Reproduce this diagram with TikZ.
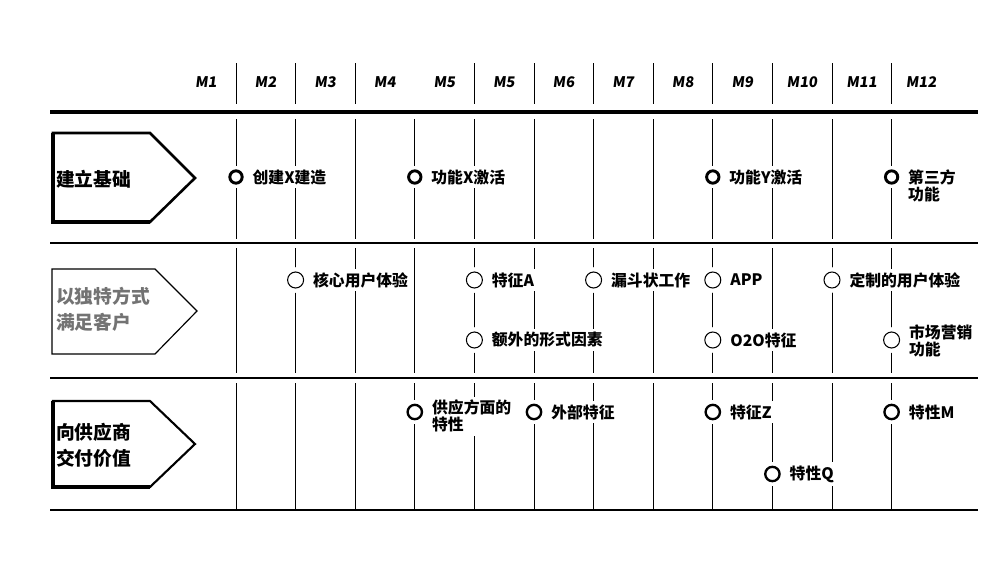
\documentclass[tikz,border=0pt]{standalone}
\usepackage{fontspec}
\setmainfont{Noto Sans CJK SC}
\newfontfamily\monthfont{Noto Sans CJK SC}[FakeSlant=0.12]
\usetikzlibrary{positioning}

\begin{document}
\begin{tikzpicture}[x=0.3mm,y=-0.3mm,
  txt/.style={font=\fontsize{13.5}{14.5}\selectfont\bfseries, fill=white, inner xsep=1.5pt, inner ysep=3pt, align=left},
  month/.style={font=\monthfont\fontsize{12.5}{14}\selectfont\bfseries, inner sep=0pt},
  boxtxt/.style={font=\fontsize{16}{22}\selectfont\bfseries, inner sep=0pt, align=left, anchor=west},
  ms/.style={circle, draw=black, fill=white, inner sep=0pt, preaction={draw=white, line width=8pt}},
  msA/.style={ms, minimum size=3.7mm, line width=2.5pt},
  msB/.style={ms, minimum size=4.8mm, line width=0.9pt},
  msC/.style={ms, minimum size=4.3mm, line width=2pt},
  vline/.style={black, line width=0.7pt},
  node distance=2.1mm]
\useasboundingbox (0,0) rectangle (1004,565);

% month header
\foreach \lab [count=\i] in {M1,M2,M3,M4,M5,M5,M6,M7,M8,M9,M10,M11,M12}
  \node[month] (m\i) at ({206+59.6*(\i-1)}, 82) {\lab};

% grid lines
\foreach \k in {0,...,11} {
  \pgfmathsetmacro{\xx}{236+59.6*\k}
  \ifnum\k=3 \else \draw[vline] (\xx,63) -- (\xx,104); \fi
  \draw[vline] (\xx,119) -- (\xx,239);
  \draw[vline] (\xx,248) -- (\xx,373);
  \draw[vline] (\xx,383) -- (\xx,510);
}
\draw[line width=3.6pt] (50,112) -- (978,112);
\draw[line width=1.8pt] (50,243) -- (978,243);
\draw[line width=1.8pt] (50,378) -- (978,378);
\draw[line width=1.6pt] (50,510) -- (978,510);

% row boxes
\draw[line width=2.2pt, line join=miter] (53,133) -- (150,133) -- (195,178) -- (150,222) -- (53,222) -- cycle;
\draw[line width=3.8pt] (53,133) -- (53,222) -- (150,222);
\node[boxtxt] (build) at (56,179) {建立基础};

\draw[line width=1pt, line join=miter] (52,269) -- (155,269) -- (197,311) -- (155,354) -- (52,354) -- cycle;
\node[boxtxt, text=black!55] (meet) at (56,309) {以独特方式\\满足客户};

\draw[line width=1.8pt, line join=miter] (53,401) -- (150,401) -- (195,444) -- (150,487) -- (53,487) -- cycle;
\draw[line width=2.8pt] (53,401) -- (53,487) -- (150,487);
\node[boxtxt] (supply) at (56,445) {向供应商\\交付价值};

% row 1
\node[msA] (a1) at (236,177) {};
\node[txt, right=of a1] (ta1) {创建X建造};
\node[msA] (a2) at (414.8,177) {};
\node[txt, right=of a2] (ta2) {功能X激活};
\node[msA] (a3) at (712.8,177) {};
\node[txt, right=of a3] (ta3) {功能Y激活};
\node[msA] (a4) at (891.6,177) {};
\node[txt, right=of a4, yshift=-2.55mm] (ta4) {第三方\\功能};

% row 2
\node[msB] (b1) at (295.6,280) {};
\node[txt, right=of b1] (tb1) {核心用户体验};
\node[msB] (b2) at (474.4,280) {};
\node[txt, right=of b2] (tb2) {特征A};
\node[msB] (b3) at (593.6,280) {};
\node[txt, right=of b3] (tb3) {漏斗状工作};
\node[msB] (b4) at (712.8,280) {};
\node[txt, right=of b4] (tb4) {APP};
\node[msB] (b5) at (832,280) {};
\node[txt, right=of b5] (tb5) {定制的用户体验};
\node[msB] (b6) at (474.4,340) {};
\node[txt, right=of b6] (tb6) {额外的形式因素};
\node[msB] (b7) at (712.8,340) {};
\node[txt, right=of b7] (tb7) {O2O特征};
\node[msB] (b8) at (891.6,340) {};
\node[txt, right=of b8, yshift=-0.4mm] (tb8) {市场营销\\功能};

% row 3
\node[msC] (c1) at (414.8,412) {};
\node[txt, right=of c1, yshift=-1.3mm] (tc1) {供应方面的\\特性};
\node[msC] (c2) at (534,412) {};
\node[txt, right=of c2] (tc2) {外部特征};
\node[msC] (c3) at (712.8,412) {};
\node[txt, right=of c3] (tc3) {特征Z};
\node[msC] (c4) at (891.6,412) {};
\node[txt, right=of c4] (tc4) {特性M};
\node[msC] (c5) at (772.4,474) {};
\node[txt, right=of c5] (tc5) {特性Q};
\end{tikzpicture}
\end{document}
